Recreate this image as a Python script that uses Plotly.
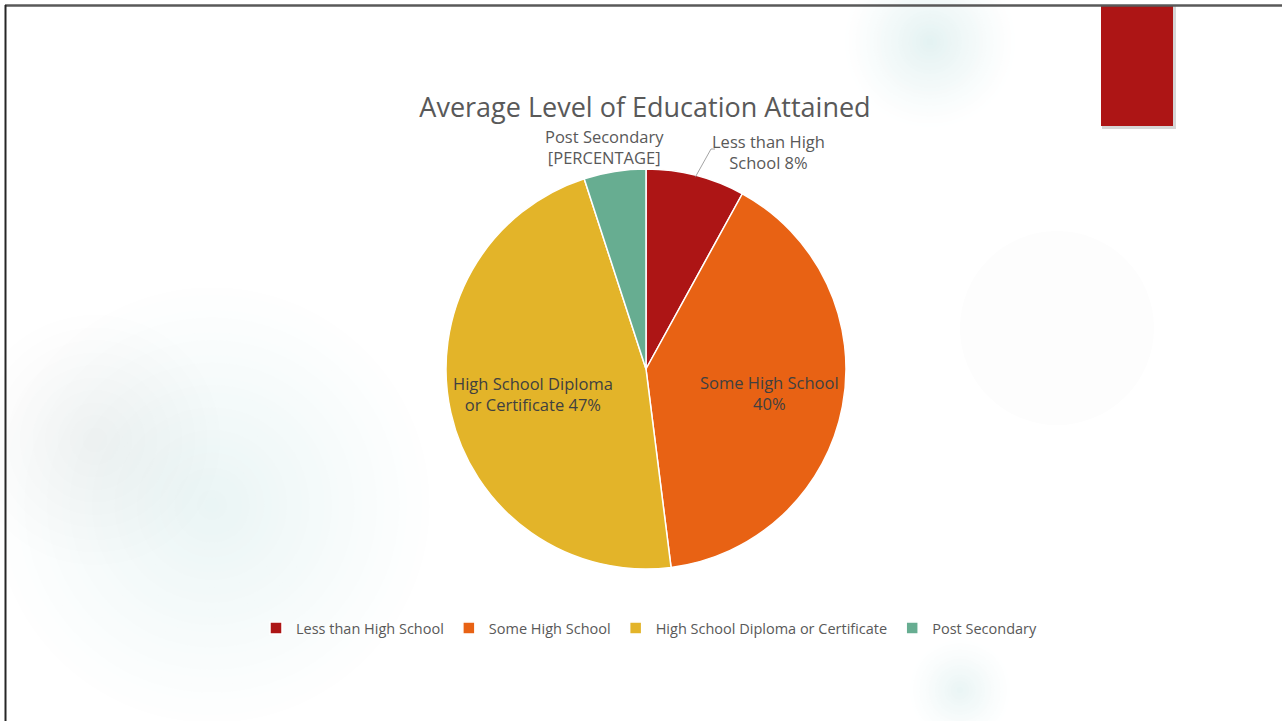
import math
import plotly.graph_objects as go

# ---- data ----
categories = ["Less than High School", "Some High School",
              "High School Diploma or Certificate", "Post Secondary"]
values = [8, 40, 47, 5]
slice_labels = ["Less than High<br>School 8%", "Some High School<br>40%",
                "High School Diploma<br>or Certificate 47%", "Post Secondary<br>[PERCENTAGE]"]
colors = ["#AD1515", "#E86214", "#E3B429", "#67AD91"]
title_text = "Average Level of Education Attained"

W, H = 1282, 721
FONT = "Open Sans"


def px(x):
    return x / W


def py(y):
    return 1 - y / H


# pie geometry (pixels)
CX, CY, R = 646, 369, 200

fig = go.Figure()
fig.add_trace(go.Pie(
    labels=categories, values=values, sort=False, direction="clockwise",
    marker=dict(colors=colors, line=dict(color="white", width=1.5)),
    textinfo="none", hoverinfo="label+percent",
    domain=dict(x=[px(CX - R), px(CX + R)], y=[py(CY + R), py(CY - R)]),
))

# ---- background decorations (soft radial blobs as opaque rings) ----
shapes = []


def blob(cx, cy, r, n, center_rgb, power=1.3):
    for k in range(n, 0, -1):
        rr = r * k / n
        f = (1 - (k - 1) / n) ** power
        c = [round(255 - (255 - cc) * f) for cc in center_rgb]
        shapes.append(dict(type="circle", xref="paper", yref="paper",
                           x0=px(cx - rr), x1=px(cx + rr), y0=py(cy + rr), y1=py(cy - rr),
                           fillcolor=f"rgb({c[0]},{c[1]},{c[2]})", line=dict(width=0),
                           layer="below"))


def soft_spot(cx, cy, r, n, alpha, rgb="110,180,184"):
    for k in range(n, 0, -1):
        rr = r * k / n
        shapes.append(dict(type="circle", xref="paper", yref="paper",
                           x0=px(cx - rr), x1=px(cx + rr), y0=py(cy + rr), y1=py(cy - rr),
                           fillcolor=f"rgba({rgb},{alpha})", line=dict(width=0), layer="below"))


blob(212, 505, 225, 30, (234, 245, 245), power=1.1)
soft_spot(95, 440, 125, 10, 0.0095)
blob(930, 42, 85, 24, (228, 242, 242), power=1.2)
blob(960, 690, 50, 16, (234, 245, 245), power=1.2)
shapes.append(dict(type="circle", xref="paper", yref="paper",
                   x0=px(960), x1=px(1154), y0=py(425), y1=py(231),
                   fillcolor="#FDFDFD", line=dict(width=0), layer="below"))

# red tab with shadow
shapes.append(dict(type="rect", xref="paper", yref="paper",
                   x0=px(1102), x1=px(1176), y0=py(129), y1=py(6),
                   fillcolor="rgba(0,0,0,0.16)", line=dict(width=0), layer="below"))
shapes.append(dict(type="rect", xref="paper", yref="paper",
                   x0=px(1101), x1=px(1173), y0=py(126), y1=py(6),
                   fillcolor="#AD1515", line=dict(width=0), layer="below"))
# frame lines
shapes.append(dict(type="line", xref="paper", yref="paper",
                   x0=px(5), x1=px(W), y0=py(5.5), y1=py(5.5),
                   line=dict(color="#595959", width=2.5), layer="above"))
shapes.append(dict(type="line", xref="paper", yref="paper",
                   x0=px(5.5), x1=px(5.5), y0=py(5), y1=py(H),
                   line=dict(color="#262626", width=2), layer="above"))

# ---- slice labels ----
total = sum(values)
cum = 0
mids = []
for v in values:
    mids.append((cum + v / 2) / total * 2 * math.pi)
    cum += v


def polar(ang, frac):
    return CX + frac * R * math.sin(ang), CY - frac * R * math.cos(ang)


annotations = []
# inside labels
for i, frac in [(1, 0.63), (2, 0.58)]:
    x, y = polar(mids[i], frac)
    annotations.append(dict(x=px(x), y=py(y), xref="paper", yref="paper",
                            text=slice_labels[i], showarrow=False,
                            font=dict(family=FONT, size=16.5, color="#404040"),
                            xanchor="center", yanchor="middle"))
# outside label with leader line (Less than High School)
ex, ey = polar(mids[0], 0.99)
shapes.append(dict(type="path", xref="paper", yref="paper",
                   path=f"M {px(ex)},{py(ey)} L {px(711)},{py(149)} L {px(715)},{py(149)}",
                   line=dict(color="#8c8c8c", width=0.8), layer="above"))
annotations.append(dict(x=px(768), y=py(152), xref="paper", yref="paper",
                        text=slice_labels[0], showarrow=False,
                        font=dict(family=FONT, size=16.5, color="#595959"),
                        xanchor="center", yanchor="middle"))
# outside label (Post Secondary)
annotations.append(dict(x=px(604), y=py(147), xref="paper", yref="paper",
                        text=slice_labels[3], showarrow=False,
                        font=dict(family=FONT, size=16.5, color="#595959"),
                        xanchor="center", yanchor="middle"))

fig.update_layout(
    width=W, height=H, margin=dict(l=0, r=0, t=0, b=0),
    paper_bgcolor="white", plot_bgcolor="white",
    title=dict(text=title_text, x=px(645), y=py(108), xanchor="center", yanchor="middle",
               xref="paper", yref="container",
               font=dict(family=FONT, size=27, color="#595959")),
    showlegend=True,
    legend=dict(orientation="h", x=px(649), y=py(628), xanchor="center", yanchor="middle",
                font=dict(family=FONT, size=14.5, color="#595959"),
                bgcolor="rgba(0,0,0,0)", itemwidth=30, traceorder="normal"),
    shapes=shapes, annotations=annotations,
)

fig.write_html("out.html", config={"displayModeBar": False},
               post_script="document.body.style.margin='0';")
